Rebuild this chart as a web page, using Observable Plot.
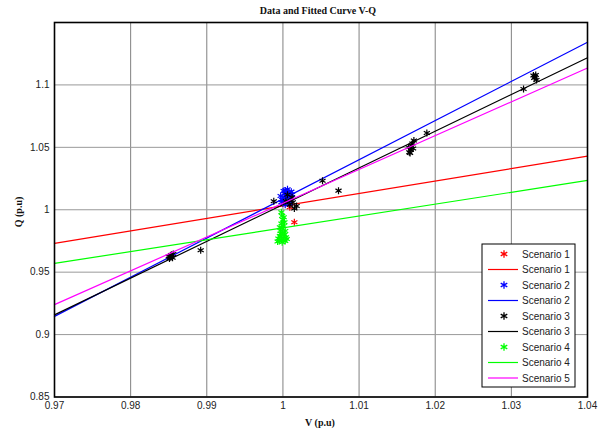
<!DOCTYPE html>
<html><head><meta charset="utf-8">
<script src="https://cdn.jsdelivr.net/npm/d3@7"></script>
<script src="https://cdn.jsdelivr.net/npm/@observablehq/plot@0.6"></script>
<style>body{margin:0;background:#fff}svg{display:block}</style>
</head><body><div id="chart"></div>
<script>
const title = "Data and Fitted Curve V-Q";
const xLabel = "V (p.u)";
const yLabel = "Q (p.u)";
const xTicks = [0.97, 0.98, 0.99, 1.0, 1.01, 1.02, 1.03, 1.04];
const yTicks = [0.85, 0.9, 0.95, 1.0, 1.05, 1.1];

// Fitted lines (V at ends of range -> Q)
const fitV = [0.97, 1.04];
const s1Fit = [0.9731, 1.0429];
const s2Fit = [0.9146, 1.1342];
const s3Fit = [0.9158, 1.1218];
const s4Fit = [0.957, 1.0235];
const s5Fit = [0.924, 1.1135];

// Measured data points [V, Q]
const s1Pts = [[1.0015, 0.990], [1.0009, 1.002]];
const s2Pts = [[0.9998,1.006],[1.0000,1.010],[1.0002,1.013],[1.0004,1.008],[1.0006,1.011],[1.0008,1.014],[1.0010,1.009],[1.0003,1.004],[1.0007,1.006],[1.0012,1.012],[1.0001,1.015],[1.0005,1.012],[0.9999,1.008],[1.0009,1.005],[0.9997,1.011],[1.0003,1.0155],[1.0011,1.0145],[1.0006,1.0165]];
const s3Pts = [[0.9852,0.962],[0.9854,0.964],[0.9853,0.9635],[0.9850,0.9625],[0.9856,0.9645],[0.9851,0.961],[0.9855,0.9615],[0.9892,0.9675],[0.9988,1.0068],[1.0004,1.007],[1.0009,1.004],[1.0012,1.010],[1.0015,1.001],[1.0006,1.012],[1.0018,1.003],[1.0013,1.006],[1.0052,1.0233],[1.0073,1.0153],[1.0167,1.0455],[1.0168,1.048],[1.0169,1.051],[1.0170,1.053],[1.0171,1.049],[1.0166,1.046],[1.0172,1.0555],[1.0165,1.050],[1.0189,1.0615],[1.0316,1.0967],[1.0330,1.1055],[1.0332,1.108],[1.0331,1.1065],[1.0333,1.104],[1.0329,1.1075]];
const s4Pts = [[0.9998,0.998],[0.9999,0.995],[1.0000,0.992],[0.9998,0.989],[1.0001,0.987],[0.9999,0.985],[0.9997,0.983],[1.0000,0.981],[1.0002,0.980],[0.9996,0.979],[0.9998,0.977],[1.0001,0.976],[0.9995,0.975],[1.0003,0.975],[0.9999,0.974],[1.0004,0.978],[0.9994,0.977],[0.9996,0.986],[1.0002,0.990],[1.0001,0.994],[0.9997,0.981],[1.0003,0.983],[0.9993,0.9745],[1.0005,0.9765]];

const colors = {s1:"#ff0000", s2:"#0000ff", s3:"#000000", s4:"#00ff00", s5:"#ff00ff"};
const legendItems = [
  {label:"Scenario 1", color:colors.s1, kind:"marker"},
  {label:"Scenario 1", color:colors.s1, kind:"line"},
  {label:"Scenario 2", color:colors.s2, kind:"marker"},
  {label:"Scenario 2", color:colors.s2, kind:"line"},
  {label:"Scenario 3", color:colors.s3, kind:"marker"},
  {label:"Scenario 3", color:colors.s3, kind:"line"},
  {label:"Scenario 4", color:colors.s4, kind:"marker"},
  {label:"Scenario 4", color:colors.s4, kind:"line"},
  {label:"Scenario 5", color:colors.s5, kind:"line"}
];

const fitRows = (q) => fitV.map((v, i) => ({v, q: q[i]}));
const ptRows = (p) => p.map(([v, q]) => ({v, q}));
const fmt = d => String(+d.toFixed(2));

const dotOpts = (c) => ({x:"v", y:"q", symbol:"asterisk", r:3.3, stroke:c, strokeWidth:1.2});
const lineOpts = (c) => ({x:"v", y:"q", stroke:c, strokeWidth:1.2});

const chart = Plot.plot({
  width: 603, height: 432,
  marginLeft: 54, marginRight: 16, marginTop: 22, marginBottom: 35.5,
  style: {fontFamily: "'Liberation Sans', Arial, sans-serif", fontSize: "10px", background: "#fff", color: "#222"},
  x: {domain: [0.97, 1.04]},
  y: {domain: [0.85, 1.15]},
  marks: [
    Plot.gridX(xTicks, {stroke: "#808080", strokeOpacity: 1, strokeWidth: 1}),
    Plot.gridY(yTicks, {stroke: "#999", strokeOpacity: 1, strokeWidth: 1}),
    Plot.axisX(xTicks, {tickSize: 0, tickPadding: 5, tickFormat: fmt, label: null, fill: "#222"}),
    Plot.axisY(yTicks, {tickSize: 0, tickPadding: 5, tickFormat: fmt, label: null, fill: "#222"}),
    Plot.dot(ptRows(s1Pts), dotOpts(colors.s1)),
    Plot.line(fitRows(s1Fit), lineOpts(colors.s1)),
    Plot.dot(ptRows(s2Pts), dotOpts(colors.s2)),
    Plot.line(fitRows(s2Fit), lineOpts(colors.s2)),
    Plot.dot(ptRows(s3Pts), dotOpts(colors.s3)),
    Plot.line(fitRows(s3Fit), lineOpts(colors.s3)),
    Plot.dot(ptRows(s4Pts), dotOpts(colors.s4)),
    Plot.line(fitRows(s4Fit), lineOpts(colors.s4)),
    Plot.line(fitRows(s5Fit), lineOpts(colors.s5)),
    Plot.frame({stroke: "#000", strokeWidth: 1.6})
  ]
});
document.getElementById("chart").appendChild(chart);

const svg = d3.select(chart);
const serif = "'Liberation Serif', 'Times New Roman', serif";
svg.append("text").attr("x", 318).attr("y", 14).attr("text-anchor", "middle")
  .attr("font-family", serif).attr("font-weight", "bold").attr("font-size", 10).attr("fill", "#111").text(title);
svg.append("text").attr("x", 320).attr("y", 426).attr("text-anchor", "middle")
  .attr("font-family", serif).attr("font-weight", "bold").attr("font-size", 10).attr("fill", "#111").text(xLabel);
svg.append("text").attr("transform", "translate(22,212) rotate(-90)").attr("text-anchor", "middle")
  .attr("font-family", serif).attr("font-weight", "bold").attr("font-size", 10).attr("fill", "#111").text(yLabel);

// Legend
const lg = svg.append("g").attr("text-anchor", "start");
lg.append("rect").attr("x", 482).attr("y", 244).attr("width", 93).attr("height", 143)
  .attr("fill", "#fff").attr("stroke", "#000").attr("stroke-width", 1);
legendItems.forEach((it, i) => {
  const y = 254 + i * 15.5;
  if (it.kind === "line") {
    lg.append("line").attr("x1", 488).attr("x2", 518).attr("y1", y).attr("y2", y)
      .attr("stroke", it.color).attr("stroke-width", 1.2);
  } else {
    lg.append("path").attr("transform", `translate(504,${y})`)
      .attr("d", d3.symbol(d3.symbolAsterisk, 40)()).attr("stroke", it.color).attr("fill", "none").attr("stroke-width", 1.3);
  }
  lg.append("text").attr("x", 522).attr("y", y).attr("dy", "0.35em").attr("text-anchor", "start")
    .attr("font-family", "'Liberation Sans', Arial, sans-serif").attr("font-size", 10).attr("fill", "#222").text(it.label);
});
</script></body></html>
